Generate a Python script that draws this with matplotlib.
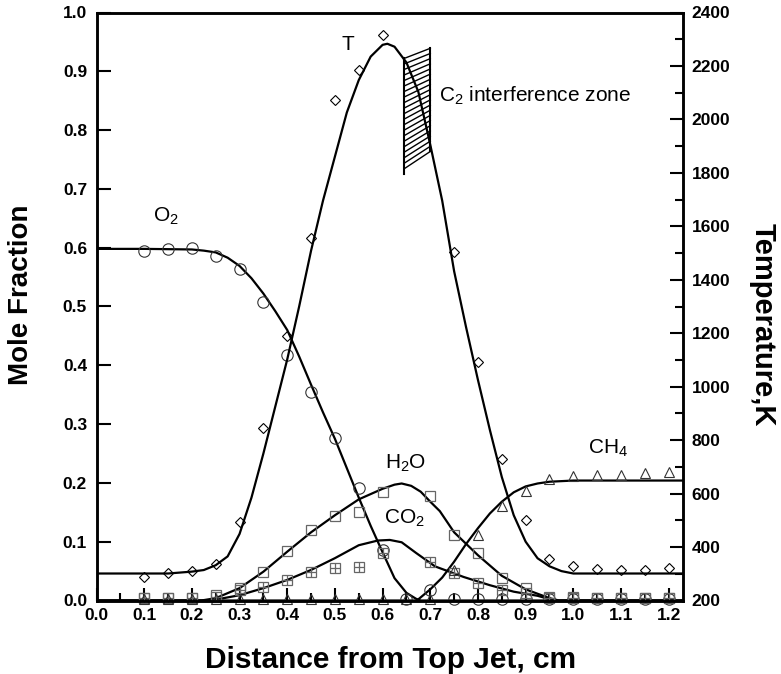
import matplotlib
matplotlib.use('Agg')
import matplotlib.pyplot as plt
from matplotlib.ticker import MultipleLocator, FormatStrFormatter

plt.rcParams['font.family'] = ['Liberation Sans', 'DejaVu Sans']
plt.rcParams['font.weight'] = 'bold'
plt.rcParams['mathtext.fontset'] = 'custom'
plt.rcParams['mathtext.rm'] = 'Liberation Sans'
plt.rcParams['mathtext.default'] = 'regular'

# measured points (distance, cm)
x_pts = [0.10, 0.15, 0.20, 0.25, 0.30, 0.35, 0.40, 0.45, 0.50, 0.55, 0.60, 0.65,
         0.70, 0.75, 0.80, 0.85, 0.90, 0.95, 1.00, 1.05, 1.10, 1.15, 1.20]
nan = float('nan')
o2_pts = [0.594, 0.597, 0.599, 0.586, 0.563, 0.508, 0.417, 0.355, 0.277, 0.192, 0.086, 0.003,
          0.018, 0.003, 0.003, 0.003, 0.003, 0.003, 0.003, 0.003, 0.003, 0.003, 0.003]
h2o_pts = [0.005, 0.004, 0.005, 0.009, 0.021, 0.049, 0.085, 0.120, 0.144, 0.151, 0.185, nan,
           0.177, 0.111, 0.081, 0.039, 0.021, 0.006, 0.006, 0.005, 0.005, 0.005, 0.005]
co2_pts = [0.005, 0.004, 0.005, 0.006, 0.018, 0.023, 0.035, 0.049, 0.056, 0.057, 0.080, nan,
           0.065, 0.046, 0.029, 0.018, 0.012, 0.005, 0.005, 0.005, 0.005, 0.005, 0.005]
ch4_pts = [0.002, 0.002, 0.002, 0.002, 0.002, 0.002, 0.002, 0.002, 0.002, 0.002, 0.002, 0.002,
           0.002, 0.052, 0.111, 0.161, 0.187, 0.206, 0.211, 0.213, 0.213, 0.217, 0.219]
t_pts = [288, 303, 312, 336, 495, 845, 1190, 1555, 2072, 2184, 2316, nan,
         nan, 1505, 1093, 730, 501, 354, 330, 317, 314, 314, 321]

# fitted curves
o2_x = [0.0, 0.1, 0.2, 0.225, 0.25, 0.275, 0.3, 0.325, 0.35, 0.375, 0.4, 0.425, 0.45,
        0.475, 0.5, 0.525, 0.55, 0.575, 0.6, 0.625, 0.65, 0.67, 0.68, 1.23]
o2_line = [0.598, 0.598, 0.597, 0.595, 0.592, 0.583, 0.569, 0.548, 0.522, 0.492, 0.460, 0.415, 0.367,
           0.320, 0.275, 0.225, 0.175, 0.127, 0.082, 0.038, 0.013, 0.003, 0.0, 0.0]

h2o_x = [0.0, 0.22, 0.25, 0.3, 0.35, 0.4, 0.45, 0.5, 0.55, 0.6, 0.625, 0.64, 0.66, 0.68,
         0.7, 0.72, 0.75, 0.8, 0.85, 0.9, 0.95, 0.97, 1.23]
h2o_line = [0.0, 0.0, 0.004, 0.021, 0.049, 0.083, 0.116, 0.145, 0.172, 0.190, 0.197, 0.199, 0.195, 0.185,
            0.168, 0.152, 0.116, 0.077, 0.042, 0.019, 0.004, 0.0, 0.0]

co2_x = [0.0, 0.24, 0.3, 0.35, 0.4, 0.45, 0.5, 0.55, 0.59, 0.615, 0.64, 0.67, 0.71,
         0.77, 0.825, 0.875, 0.925, 0.96, 1.23]
co2_line = [0.0, 0.0, 0.009, 0.021, 0.035, 0.052, 0.072, 0.094, 0.102, 0.103, 0.099, 0.081, 0.058,
            0.040, 0.026, 0.015, 0.008, 0.0, 0.0]

ch4_x = [0.0, 0.672, 0.7, 0.725, 0.75, 0.775, 0.8, 0.825, 0.85, 0.875, 0.9, 0.925, 0.95, 1.0, 1.23]
ch4_line = [0.0, 0.0, 0.019, 0.039, 0.066, 0.096, 0.123, 0.148, 0.168, 0.184, 0.194, 0.199, 0.202, 0.204, 0.204]

t_x = [0.0, 0.15, 0.2, 0.225, 0.25, 0.275, 0.3, 0.325, 0.35, 0.375, 0.4, 0.425, 0.45, 0.475,
       0.5, 0.525, 0.55, 0.575, 0.6, 0.61, 0.625, 0.65, 0.675, 0.7, 0.725, 0.75, 0.775, 0.8,
       0.825, 0.85, 0.875, 0.9, 0.925, 0.95, 0.975, 1.0, 1.23]
t_line = [301, 301, 308, 314, 332, 365, 449, 585, 750, 926, 1102, 1300, 1509, 1696,
          1861, 2026, 2147, 2235, 2279, 2283, 2272, 2213, 2103, 1905, 1696, 1432, 1223, 1025,
          838, 662, 519, 420, 358, 328, 310, 301, 301]

# C2 interference zone (x edges, temperature at top / bottom of each edge)
zone_x = [0.645, 0.70]
zone_top = [2228, 2266]
zone_bot = [1815, 1880]

fig = plt.figure(figsize=(7.81, 6.74), dpi=100)
ax = fig.add_axes([96.5 / 781, 1 - 600.5 / 674, (683 - 96.5) / 781, 588 / 674])
ax2 = ax.twinx()

lw = 1.6
ax.plot(o2_x, o2_line, color='k', lw=lw)
ax.plot(h2o_x, h2o_line, color='k', lw=lw)
ax.plot(co2_x, co2_line, color='k', lw=lw)
ax.plot(ch4_x, ch4_line, color='k', lw=lw)
ax2.plot(t_x, t_line, color='k', lw=lw)

ax.plot(x_pts, o2_pts, 'o', ms=8.2, mfc='none', mec='#333333', mew=0.8, clip_on=False)
ax.plot(x_pts, h2o_pts, 's', ms=7.6, mfc='none', mec='#666666', mew=0.9, clip_on=False)
ax.plot(x_pts, co2_pts, 's', ms=7, mfc='none', mec='#666666', mew=0.9, clip_on=False)
ax.plot(x_pts, co2_pts, '+', ms=7, mec='#666666', mew=0.9, clip_on=False)
ax.plot(x_pts, ch4_pts, '^', ms=7.2, mfc='none', mec='#333333', mew=0.8, clip_on=False)
ax2.plot(x_pts, t_pts, 'D', ms=5, mfc='none', mec='k', mew=0.8)

# hatched zone
ax2.plot([zone_x[0], zone_x[0]], [zone_bot[0] - 20, zone_top[0]], color='k', lw=1.5)
ax2.plot([zone_x[1], zone_x[1]], [zone_bot[1], zone_top[1]], color='k', lw=1.5)
n_hatch = 20
for i in range(n_hatch + 1):
    f = i / n_hatch
    yl = zone_top[0] + f * (zone_bot[0] - zone_top[0])
    yr = zone_top[1] + f * (zone_bot[1] - zone_top[1])
    ax2.plot(zone_x, [yl, yr], color='k', lw=1.0)

ax.set_xlim(0, 1.23)
ax.set_ylim(0, 1.0)
ax2.set_ylim(200, 2400)

ax.xaxis.set_major_locator(MultipleLocator(0.1))
ax.xaxis.set_minor_locator(MultipleLocator(0.05))
ax.xaxis.set_major_formatter(FormatStrFormatter('%.1f'))
ax.yaxis.set_major_locator(MultipleLocator(0.1))
ax.yaxis.set_major_formatter(FormatStrFormatter('%.1f'))
ax2.yaxis.set_major_locator(MultipleLocator(200))
ax2.yaxis.set_minor_locator(MultipleLocator(100))

ax.tick_params(axis='x', which='major', direction='in', length=9.4, width=1.5, pad=5.5, labelsize=12.5, top=False)
ax.tick_params(axis='x', which='minor', direction='in', length=5.8, width=1.5, top=False)
ax.tick_params(axis='y', which='major', direction='in', length=10, width=1.5, pad=6.8, labelsize=12.5, right=False)
ax2.tick_params(axis='y', which='major', direction='in', length=9.6, width=1.5, pad=6.3, labelsize=12.5)
ax2.tick_params(axis='y', which='minor', direction='in', length=6, width=1.5)

for a in (ax, ax2):
    for s in a.spines.values():
        s.set_linewidth(1.8)

# curve labels
tkw = dict(fontsize=15, fontweight='normal', va='baseline', ha='left')
ax.text(0.514, 0.937, 'T', **tkw)
ax.text(0.718, 0.848, 'C$_2$ interference zone', **tkw)
ax.text(0.118, 0.644, 'O$_2$', **tkw)
ax.text(0.605, 0.225, 'H$_2$O', **tkw)
ax.text(0.603, 0.130, 'CO$_2$', **tkw)
ax.text(1.031, 0.250, 'CH$_4$', **tkw)

# axis titles
fig.text(391 / 781, 1 - 668 / 674, 'Distance from Top Jet, cm', fontsize=21.5,
         fontweight='bold', ha='center', va='baseline')
fig.text(21 / 781, 1 - 295 / 674, 'Mole Fraction', fontsize=20, fontweight='bold',
         rotation=90, ha='center', va='center')
fig.text(763 / 781, 1 - 325 / 674, 'Temperature,K', fontsize=21, fontweight='bold',
         rotation=270, ha='center', va='center')

fig.savefig('out.png', dpi=100)
